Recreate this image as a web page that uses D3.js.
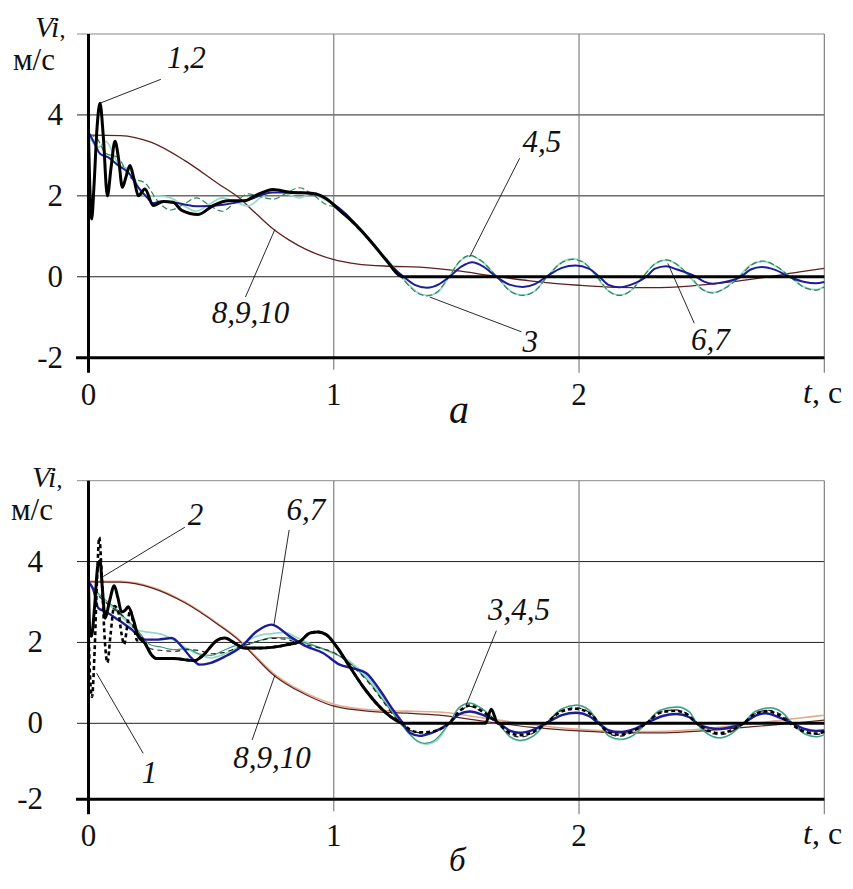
<!DOCTYPE html>
<html>
<head>
<meta charset="utf-8">
<script src="https://cdn.jsdelivr.net/npm/d3@7"></script>
</head>
<body style="margin:0">
<svg id="chart" width="853" height="889" font-family="Liberation Serif"></svg>
<script>
// ---------- axis ticks ----------
const tTicks = [0, 1, 2];
const vTicks = [-2, 0, 2, 4];

// ---------- panel а : velocities V_i(t), points [t (s), V (m/s)] ----------
const a_v12 = [[0,3.5],[0.004,2.5],[0.013,1.43],[0.022,2.2],[0.035,3.7],[0.047,4.29],[0.06,3.5],[0.077,2.0],[0.092,2.7],[0.108,3.35],[0.123,2.9],[0.138,2.21],[0.152,2.45],[0.169,2.75],[0.186,2.4],[0.203,2.0],[0.23,2.17],[0.264,1.76],[0.305,1.86],[0.345,1.84],[0.38,1.64],[0.447,1.54],[0.508,1.76],[0.57,1.88],[0.637,1.88],[0.678,2.0],[0.753,2.16],[0.82,2.09],[0.916,2.06],[0.97,1.93],[1.024,1.64],[1.092,1.27],[1.16,0.81],[1.215,0.40],[1.269,0.03],[1.282,0],[3.0,0]];
const a_v3 = [[0,3.5],[0.03,3.45],[0.07,3.05],[0.12,2.95],[0.17,2.45],[0.23,2.32],[0.285,1.85],[0.335,1.65],[0.39,1.8],[0.44,1.95],[0.49,1.78],[0.545,1.62],[0.6,1.85],[0.65,2.05],[0.7,1.98],[0.755,1.92],[0.81,2.08],[0.86,2.2],[0.91,2.05],[0.965,1.8],[1.02,1.68],[1.08,1.3],[1.15,0.88],[1.2,0.52],[1.25,0.18],[1.3,-0.18],[1.34,-0.4],[1.38,-0.47],[1.42,-0.38],[1.47,0.0],[1.51,0.36],[1.555,0.53],[1.6,0.4],[1.665,0.0],[1.72,-0.36],[1.77,-0.46],[1.82,-0.35],[1.87,0.0],[1.925,0.33],[1.975,0.43],[2.03,0.3],[2.075,0.0],[2.12,-0.35],[2.165,-0.46],[2.21,-0.35],[2.26,0.0],[2.31,0.32],[2.355,0.42],[2.4,0.3],[2.455,0.0],[2.5,-0.3],[2.545,-0.4],[2.59,-0.3],[2.655,0.0],[2.7,0.28],[2.75,0.39],[2.8,0.28],[2.86,0.0],[2.92,-0.27],[2.966,-0.33],[3.0,-0.25]];
const a_v45 = [[0,3.5],[0.04,3.2],[0.07,3.35],[0.12,2.8],[0.17,2.62],[0.23,2.0],[0.285,2.0],[0.335,1.95],[0.39,1.75],[0.44,1.62],[0.49,1.78],[0.545,1.95],[0.6,1.85],[0.65,1.75],[0.7,1.95],[0.755,2.15],[0.81,2.05],[0.86,1.95],[0.91,2.05],[0.965,1.9],[1.02,1.7],[1.08,1.33],[1.15,0.9],[1.2,0.55],[1.25,0.2],[1.3,-0.16],[1.34,-0.38],[1.38,-0.46],[1.42,-0.4],[1.47,0.0],[1.51,0.35],[1.555,0.52],[1.6,0.4],[1.665,0.0],[1.72,-0.35],[1.77,-0.45],[1.82,-0.35],[1.87,0.0],[1.925,0.34],[1.975,0.44],[2.03,0.3],[2.07,0.0],[2.12,-0.35],[2.165,-0.45],[2.21,-0.35],[2.26,0.0],[2.31,0.32],[2.355,0.41],[2.4,0.3],[2.45,0.0],[2.5,-0.3],[2.545,-0.39],[2.59,-0.3],[2.65,0.0],[2.7,0.29],[2.75,0.38],[2.8,0.27],[2.86,0.0],[2.92,-0.26],[2.966,-0.32],[3.0,-0.24]];
const a_v67 = [[0,3.58],[0.026,3.28],[0.047,3.04],[0.081,2.95],[0.121,2.75],[0.162,2.58],[0.203,2.21],[0.237,1.97],[0.264,1.82],[0.29,1.86],[0.35,1.83],[0.45,1.74],[0.55,1.78],[0.65,1.9],[0.75,2.08],[0.85,2.08],[0.93,2.03],[1.0,1.8],[1.05,1.55],[1.1,1.22],[1.15,0.87],[1.2,0.52],[1.25,0.18],[1.285,0.0],[1.33,-0.2],[1.38,-0.27],[1.43,-0.18],[1.472,0.0],[1.52,0.25],[1.565,0.36],[1.61,0.25],[1.663,0.0],[1.72,-0.2],[1.771,-0.25],[1.82,-0.18],[1.866,0.0],[1.93,0.22],[1.985,0.28],[2.04,0.2],[2.083,0.0],[2.12,-0.2],[2.165,-0.26],[2.21,-0.2],[2.274,0.0],[2.31,0.2],[2.355,0.26],[2.4,0.18],[2.477,0.0],[2.51,-0.12],[2.545,-0.17],[2.6,-0.12],[2.66,0.0],[2.70,0.18],[2.745,0.24],[2.8,0.17],[2.857,0.0],[2.92,-0.13],[2.966,-0.16],[3.0,-0.13]];
const a_v8910 = [[0,3.5],[0.13,3.49],[0.257,3.32],[0.393,2.87],[0.529,2.3],[0.61,1.97],[0.685,1.55],[0.753,1.18],[0.82,0.9],[0.889,0.67],[0.997,0.43],[1.092,0.32],[1.228,0.26],[1.35,0.24],[1.5,0.15],[1.65,0.02],[1.8,-0.1],[2.0,-0.21],[2.15,-0.26],[2.3,-0.27],[2.45,-0.23],[2.6,-0.14],[2.75,-0.02],[2.9,0.12],[3.0,0.21]];

// ---------- panel б ----------
const b_v1 = [[0,2.4],[0.006,1.2],[0.014,0.65],[0.025,1.8],[0.035,3.6],[0.044,4.6],[0.055,3.5],[0.066,2.1],[0.077,1.5],[0.09,2.2],[0.105,2.9],[0.12,2.8],[0.135,2.2],[0.145,1.95],[0.16,2.5],[0.17,2.8],[0.185,2.4],[0.198,2.05],[0.215,2.1],[0.23,1.98],[0.257,1.69],[0.278,1.6],[0.345,1.6],[0.434,1.55],[0.461,1.65],[0.529,2.07],[0.556,2.11],[0.597,1.98],[0.637,1.86],[0.699,1.86],[0.807,1.94],[0.861,2.02],[0.902,2.23],[0.936,2.26],[0.97,2.19],[1.011,1.9],[1.065,1.4],[1.119,0.91],[1.187,0.41],[1.242,0.12],[1.282,0],[1.3,-0.12],[1.35,-0.24],[1.4,-0.22],[1.47,0.0],[1.52,0.34],[1.555,0.44],[1.6,0.32],[1.67,0.0],[1.72,-0.26],[1.76,-0.31],[1.81,-0.24],[1.866,0.0],[1.93,0.3],[1.985,0.36],[2.04,0.26],[2.083,0.0],[2.12,-0.24],[2.165,-0.3],[2.21,-0.23],[2.274,0.0],[2.33,0.26],[2.39,0.31],[2.44,0.22],[2.48,0.0],[2.53,-0.2],[2.572,-0.26],[2.62,-0.19],[2.67,0.0],[2.72,0.24],[2.765,0.3],[2.81,0.22],[2.86,0.0],[2.92,-0.22],[2.966,-0.27],[3.0,-0.22]];
const b_v2 = [[0,3.5],[0.005,2.3],[0.012,2.15],[0.025,2.9],[0.038,3.9],[0.047,4.02],[0.057,3.3],[0.068,2.6],[0.085,3.0],[0.105,3.4],[0.12,3.1],[0.135,2.75],[0.15,2.8],[0.162,2.88],[0.183,2.56],[0.203,2.15],[0.23,1.98],[0.257,1.69],[0.278,1.6],[0.345,1.6],[0.434,1.55],[0.461,1.65],[0.529,2.07],[0.556,2.11],[0.597,1.98],[0.637,1.86],[0.699,1.86],[0.807,1.94],[0.861,2.02],[0.902,2.23],[0.936,2.26],[0.97,2.19],[1.011,1.9],[1.065,1.4],[1.119,0.91],[1.187,0.41],[1.242,0.12],[1.282,0],[1.619,0],[1.642,0.35],[1.669,0],[3.0,0]];
const b_v3 = [[0,3.5],[0.05,3.1],[0.1,2.85],[0.15,2.6],[0.2,2.25],[0.25,1.85],[0.3,1.8],[0.35,1.78],[0.4,1.82],[0.45,1.8],[0.5,1.72],[0.55,1.75],[0.6,1.85],[0.65,1.95],[0.7,2.05],[0.75,2.1],[0.8,2.08],[0.85,2.0],[0.9,1.92],[0.95,1.85],[1.0,1.75],[1.05,1.55],[1.1,1.28],[1.15,0.95],[1.2,0.55],[1.25,0.15],[1.3,-0.15],[1.35,-0.25],[1.38,-0.27],[1.42,-0.2],[1.47,0.0],[1.52,0.33],[1.555,0.42],[1.6,0.3],[1.67,0.0],[1.72,-0.3],[1.76,-0.36],[1.81,-0.27],[1.866,0.0],[1.93,0.32],[1.99,0.38],[2.04,0.27],[2.083,0.0],[2.12,-0.27],[2.165,-0.34],[2.21,-0.26],[2.274,0.0],[2.33,0.27],[2.39,0.33],[2.44,0.24],[2.48,0.0],[2.53,-0.24],[2.572,-0.3],[2.62,-0.22],[2.67,0.0],[2.72,0.25],[2.77,0.32],[2.82,0.23],[2.87,0.0],[2.92,-0.23],[2.966,-0.29],[3.0,-0.25]];
const b_v4 = [[0,3.5],[0.05,3.15],[0.1,2.9],[0.15,2.6],[0.2,2.3],[0.25,1.95],[0.3,1.88],[0.35,1.82],[0.4,1.85],[0.45,1.72],[0.5,1.68],[0.55,1.8],[0.6,1.92],[0.65,1.95],[0.7,2.05],[0.75,2.12],[0.8,2.12],[0.85,2.04],[0.9,1.96],[0.95,1.86],[1.0,1.74],[1.05,1.56],[1.1,1.3],[1.15,0.98],[1.2,0.58],[1.25,0.18],[1.3,-0.22],[1.34,-0.46],[1.37,-0.53],[1.41,-0.45],[1.47,0.0],[1.51,0.38],[1.554,0.5],[1.6,0.38],[1.67,0.0],[1.72,-0.36],[1.76,-0.45],[1.81,-0.35],[1.866,0.0],[1.93,0.36],[1.99,0.45],[2.04,0.33],[2.083,0.0],[2.12,-0.33],[2.17,-0.42],[2.22,-0.32],[2.274,0.0],[2.33,0.32],[2.4,0.4],[2.45,0.28],[2.48,0.0],[2.53,-0.3],[2.57,-0.38],[2.62,-0.28],[2.67,0.0],[2.72,0.3],[2.78,0.38],[2.83,0.26],[2.87,0.0],[2.92,-0.28],[2.97,-0.35],[3.0,-0.3]];
const b_v5 = [[0,3.5],[0.05,3.1],[0.1,2.85],[0.15,2.55],[0.2,2.3],[0.25,2.25],[0.3,2.2],[0.35,2.05],[0.4,1.85],[0.45,1.7],[0.5,1.62],[0.55,1.7],[0.6,1.85],[0.65,2.05],[0.7,2.18],[0.75,2.22],[0.8,2.25],[0.85,2.12],[0.9,1.98],[0.95,1.85],[1.0,1.72],[1.05,1.6],[1.1,1.35],[1.15,1.05],[1.2,0.65],[1.25,0.2],[1.3,-0.22],[1.34,-0.47],[1.375,-0.55],[1.42,-0.45],[1.47,0.0],[1.51,0.38],[1.554,0.5],[1.6,0.38],[1.67,0.0],[1.72,-0.36],[1.76,-0.46],[1.81,-0.35],[1.866,0.0],[1.93,0.36],[1.99,0.45],[2.04,0.33],[2.083,0.0],[2.12,-0.33],[2.165,-0.43],[2.22,-0.32],[2.274,0.0],[2.33,0.32],[2.4,0.41],[2.45,0.28],[2.48,0.0],[2.53,-0.3],[2.572,-0.39],[2.62,-0.28],[2.67,0.0],[2.72,0.3],[2.78,0.38],[2.83,0.26],[2.87,0.0],[2.92,-0.28],[2.966,-0.36],[3.0,-0.3]];
const b_v67 = [[0,3.51],[0.02,3.3],[0.04,2.85],[0.067,2.77],[0.121,2.56],[0.176,2.32],[0.23,2.07],[0.284,2.07],[0.339,2.11],[0.38,1.9],[0.42,1.61],[0.454,1.45],[0.495,1.49],[0.556,1.65],[0.624,1.9],[0.685,2.27],[0.746,2.44],[0.82,2.15],[0.889,1.9],[0.956,1.74],[1.024,1.45],[1.079,1.36],[1.133,1.24],[1.187,0.83],[1.242,0.33],[1.282,0.0],[1.31,-0.25],[1.35,-0.33],[1.4,-0.25],[1.47,0.0],[1.51,0.22],[1.554,0.29],[1.61,0.2],[1.676,0.0],[1.72,-0.2],[1.757,-0.25],[1.81,-0.18],[1.866,0.0],[1.93,0.2],[1.989,0.26],[2.04,0.18],[2.08,0.0],[2.12,-0.18],[2.165,-0.23],[2.22,-0.16],[2.274,0.0],[2.34,0.18],[2.396,0.23],[2.45,0.15],[2.48,0.0],[2.53,-0.12],[2.572,-0.15],[2.62,-0.1],[2.67,0.0],[2.72,0.19],[2.76,0.25],[2.81,0.16],[2.87,0.0],[2.92,-0.15],[2.966,-0.2],[3.0,-0.19]];
const b_v8910 = [[0,3.5],[0.13,3.49],[0.257,3.35],[0.393,2.98],[0.529,2.44],[0.61,2.07],[0.678,1.65],[0.753,1.2],[0.82,0.92],[0.889,0.7],[0.997,0.43],[1.16,0.29],[1.3,0.25],[1.43,0.2],[1.6,0.06],[1.8,-0.1],[2.0,-0.2],[2.2,-0.25],[2.35,-0.25],[2.5,-0.2],[2.65,-0.12],[2.8,-0.04],[2.9,0.02],[3.0,0.08]];
const b_v8910b = [[0,3.52],[0.13,3.51],[0.257,3.37],[0.393,3.0],[0.529,2.46],[0.61,2.09],[0.678,1.68],[0.753,1.24],[0.82,0.96],[0.889,0.74],[0.997,0.48],[1.16,0.33],[1.3,0.3],[1.43,0.28],[1.6,0.14],[1.8,-0.03],[2.0,-0.16],[2.2,-0.22],[2.35,-0.21],[2.5,-0.15],[2.65,-0.05],[2.8,0.06],[2.9,0.13],[3.0,0.2]];

// make sure the serif face (upright and italic) is loaded before any text is laid out
(function warmFonts() {
  const ctx = document.createElement("canvas").getContext("2d");
  ["", "italic "].forEach(st => {
    ctx.font = st + "40px 'Liberation Serif'";
    ctx.measureText("Vi м/с 0123456789 t, с а б");
  });
})();

// ---------- layout ----------
const W = 853, H = 889;
const svg = d3.select("#chart");
svg.append("rect").attr("width", W).attr("height", H).attr("fill", "#fff");

const panels = [
  {
    name: "а", letterSize: 40, yRange: [357.7, 34], yDomain: [-2, 6], tickDx: 63,
    titleX: 35, titleY: 37, unitX: 13, unitY: 70, letterY: 423,
    series: [
      { data: a_v8910, color: "#5e2020", width: 1.3 },
      { data: a_v45,  color: "#93d9c9", width: 1.7 },
      { data: a_v3,   color: "#2f8355", width: 1.2, dash: "6,3" },
      { data: a_v67,  color: "#1d1d9a", width: 2.0 },
      { data: a_v12,  color: "#000",    width: 3.0 }
    ],
    notes: [
      { text: "1,2",    at: [0.320, 5.15], from: [0.295, 4.88], to: [0.047, 4.29] },
      { text: "8,9,10", at: [0.503, -1.15], from: [0.640, -0.5], to: [0.760, 1.17] },
      { text: "4,5",    at: [1.770, 3.08], from: [1.758, 2.93], to: [1.554, 0.49] },
      { text: "3",      at: [1.770, -1.87], from: [1.765, -1.36], to: [1.391, -0.5] },
      { text: "6,7",    at: [2.457, -1.82], from: [2.470, -1.15], to: [2.362, 0.33] }
    ]
  },
  {
    name: "б", letterSize: 33, yRange: [799.3, 723.3, 480.7], yDomain: [-2, 0, 6], tickDx: 43,
    titleX: 32, titleY: 487, unitX: 11, unitY: 520, letterY: 871,
    series: [
      { data: b_v8910b, color: "#e3ab8a", width: 1.6 },
      { data: b_v8910, color: "#5e2020", width: 1.2 },
      { data: b_v5,   color: "#93d9c9", width: 1.7 },
      { data: b_v4,   color: "#3c9a7c", width: 1.2 },
      { data: b_v3,   color: "#222",    width: 1.2, dash: "5,4" },
      { data: b_v67,  color: "#1d1d9a", width: 2.4 },
      { data: b_v1,   color: "#000",    width: 2.6, dash: "4,3" },
      { data: b_v2,   color: "#000",    width: 3.0 }
    ],
    notes: [
      { text: "2",      at: [0.405, 4.91], from: [0.393, 4.85], to: [0.060, 3.63] },
      { text: "6,7",    at: [0.807, 5.03], from: [0.818, 4.78], to: [0.756, 2.43] },
      { text: "1",      at: [0.217, -1.58], from: [0.223, -0.79], to: [0.033, 1.24] },
      { text: "8,9,10", at: [0.590, -1.18], from: [0.667, -0.44], to: [0.760, 1.19] },
      { text: "3,4,5",  at: [1.629, 2.55], from: [1.663, 2.29], to: [1.540, 0.45] }
    ]
  }
];

// serif label at (px, py)
function label(g, px, py, size, italic, anchor) {
  return g.append("text")
    .attr("x", px).attr("y", py)
    .attr("font-family", "Liberation Serif")
    .style("font-family", "Liberation Serif")
    .attr("font-size", size)
    .attr("font-style", italic ? "italic" : null)
    .attr("text-anchor", anchor || "start")
    .attr("fill", "#111");
}

panels.forEach(p => {
  const x = d3.scaleLinear().domain([0, 3]).range([88.5, 824.3]);
  const y = d3.scaleLinear().domain(p.yDomain).range(p.yRange);
  const g = svg.append("g");
  const yTop = y(6), yBot = y(-2);

  // grid: horizontal lines at the value ticks and the top border
  [6, 4, 2, 0].forEach(v => {
    g.append("line")
      .attr("x1", 77).attr("x2", x(3)).attr("y1", y(v)).attr("y2", y(v))
      .attr("stroke", v === 6 ? "#8a8a8a" : "#222").attr("stroke-width", 1);
  });
  // vertical grid lines (t = 1, 2, 3) extended below the axis as ticks
  [1, 2, 3].forEach(t => {
    g.append("line")
      .attr("x1", x(t)).attr("x2", x(t)).attr("y1", yTop).attr("y2", yBot + (t === 1 ? 12 : 15))
      .attr("stroke", "#777").attr("stroke-width", 1.1);
  });

  // curves
  const line = d3.line()
    .x(d => x(d[0])).y(d => y(d[1]))
    .curve(d3.curveMonotoneX);
  p.series.forEach(s => {
    g.append("path")
      .attr("d", line(s.data))
      .attr("fill", "none")
      .attr("stroke", s.color)
      .attr("stroke-width", s.width)
      .attr("stroke-dasharray", s.dash || null)
      .attr("stroke-linejoin", "round");
  });

  // axes
  g.append("line").attr("x1", x(0)).attr("x2", x(0)).attr("y1", yTop).attr("y2", yBot + 15)
    .attr("stroke", "#000").attr("stroke-width", 3);
  g.append("line").attr("x1", 76).attr("x2", x(3)).attr("y1", yBot).attr("y2", yBot)
    .attr("stroke", "#000").attr("stroke-width", 3);

  // value tick labels
  vTicks.forEach(v => {
    label(g, p.tickDx, y(v) + 10, 31, false, "end").text(v < 0 ? "-" + Math.abs(v) : v);
  });
  // time tick labels
  tTicks.forEach(t => {
    label(g, x(t), yBot + 47, 31, false, "middle").text(t);
  });

  // axis titles
  const tt = label(g, 803, yBot + 45, 32, false);
  tt.append("tspan").attr("font-style", "italic").text("t");
  tt.append("tspan").text(", с");

  const vt = label(g, p.titleX, p.titleY, 30, true);
  vt.append("tspan").text("V");
  vt.append("tspan").text("i");
  vt.append("tspan").attr("font-size", 24).attr("font-style", "normal").text(",");
  label(g, p.unitX, p.unitY, 31, false).text("м/с");

  // panel letter
  label(g, 449, p.letterY, p.letterSize, true).text(p.name);

  // curve annotations with leader lines
  p.notes.forEach(n => {
    g.append("line")
      .attr("x1", x(n.from[0])).attr("y1", y(n.from[1]))
      .attr("x2", x(n.to[0])).attr("y2", y(n.to[1]))
      .attr("stroke", "#111").attr("stroke-width", 0.9);
    label(g, x(n.at[0]), y(n.at[1]), 31, true).text(n.text);
  });
});
</script>
</body>
</html>
